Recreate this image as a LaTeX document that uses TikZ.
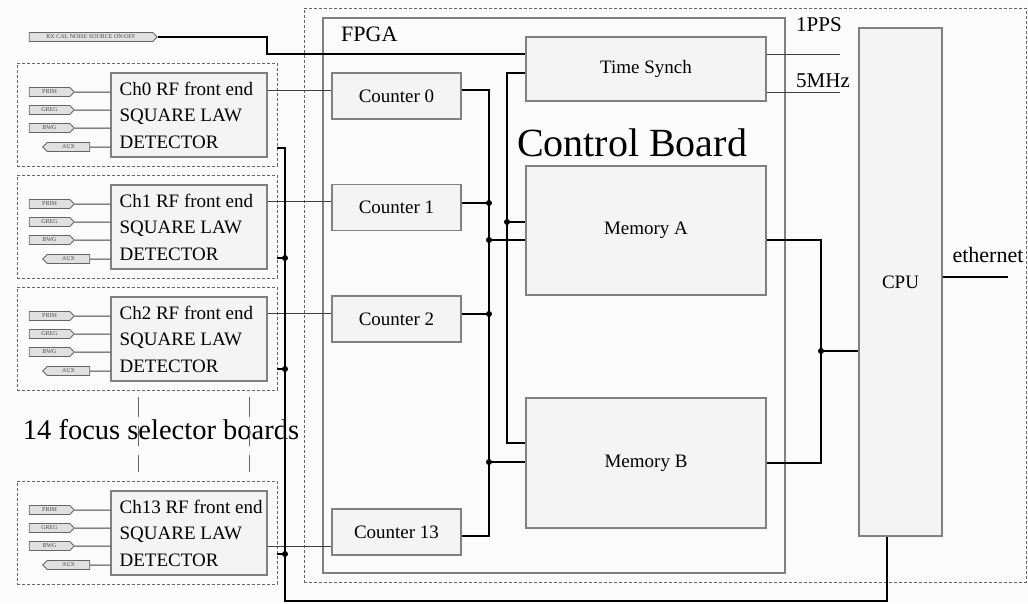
\documentclass[tikz,border=0pt]{standalone}
\usepackage{fontspec}
\setmainfont{Liberation Serif}
\usetikzlibrary{shapes.symbols}
\definecolor{boxfill}{gray}{0.955}
\definecolor{boxline}{gray}{0.5}
\definecolor{paper}{gray}{0.985}

\begin{document}
\begin{tikzpicture}[x=1pt,y=-1pt]
    \tikzstyle{box}=[draw=boxline,fill=boxfill,line width=1.1pt,inner sep=0pt]
    \tikzstyle{counter}=[box,minimum width=129,minimum height=46,font=\fontsize{19}{22}\selectfont]
    \tikzstyle{front end}=[box,minimum width=156,minimum height=84]
    \tikzstyle{frame}=[draw=black!60,dash pattern=on 3pt off 2pt,line width=0.8pt,inner sep=0pt]
    \tikzstyle{board}=[frame,minimum width=260,minimum height=103]
    \tikzstyle{tag}=[signal,draw=black!60,fill=black!12,line width=0.8pt,minimum height=9,inner sep=0.5pt,text=black!70,font=\fontsize{6}{6}\selectfont]
    \tikzstyle{tag out}=[tag,signal to=east,minimum width=45]
    \tikzstyle{tag in}=[tag,signal to=west,minimum width=47]
    \tikzstyle{link}=[draw=black!75,line width=1pt]
    \tikzstyle{bus}=[draw=black,line width=2.5pt]
    \tikzstyle{dot}=[circle,fill=black,inner sep=0pt,minimum size=6pt]
    \tikzstyle{annot}=[inner sep=0pt]

    \fill[paper] (0,0) rectangle (1028,603);
    \useasboundingbox (0,0) rectangle (1028,603);

    % Draw the control board and its blocks
    \node[frame,minimum width=722,minimum height=574] (Ctl) at (665,295) {};
    \node[draw=boxline,line width=1.1pt,minimum width=462,minimum height=555] (Fpga) at (554,295.5) {};
    \node[annot,anchor=west,font=\fontsize{22}{24}\selectfont] (FpgaT) at (341,34) {FPGA};
    \node[annot,font=\fontsize{40}{44}\selectfont] (CtlT) at (632,143) {Control Board};
    \node[box,minimum width=240,minimum height=64,font=\fontsize{19}{22}\selectfont] (Ts) at (646,69) {Time Synch};
    \node[box,minimum width=240,minimum height=129,font=\fontsize{19}{22}\selectfont] (MemA) at (646,230.5) {Memory A};
    \node[box,minimum width=240,minimum height=130,font=\fontsize{19}{22}\selectfont] (MemB) at (646,463) {Memory B};
    \node[box,minimum width=83,minimum height=508,font=\fontsize{19}{22}\selectfont] (Cpu) at (900.5,282) {CPU};

    % Draw the selector boards and their counters
    \foreach \n/\ty/\cy/\ly/\oy/\by in {0/63/96/90/90/148, 1/175/207.5/201/203/258, 2/287/319/313/314/369, 13/481/532/546/536/554}
    {
        \node[board] (Brd-\n) at (147,\ty+51.5) {};
        \node[front end] (Ch-\n) at (189,\ty+52) {};
        \node[annot,anchor=west,align=left,font=\fontsize{19}{26.5}\selectfont] (Txt-\n) at ([xshift=9pt]Ch-\n.west) {Ch\n\ RF front end\\SQUARE LAW\\DETECTOR};
        \node[tag out] (Prim-\n) at (49.5,\ty+29) {PRIM};
        \node[tag out] (Greg-\n) at (49.5,\ty+47) {GREG};
        \node[tag out] (Bwg-\n) at (49.5,\ty+65) {BWG};
        \node[tag in] (Aux-\n) at (68.5,\ty+84) {AUX};
        \foreach \p in {Prim,Greg,Bwg,Aux}
            \draw[link] (\p-\n) -- (\p-\n -| Ch-\n.west);
        \node[counter] (Cnt-\n) at (396.5,\cy) {Counter \n};
        \coordinate (L-\n) at (0,\ly);
        \coordinate (O-\n) at (0,\oy);
        \coordinate (S-\n) at (285,\by);
        \draw[link] (Ch-\n.east |- L-\n) -- (Cnt-\n.west |- L-\n);
        \draw[bus] (Brd-\n.east |- S-\n) -- (S-\n);
    }
    \node[annot,font=\fontsize{28.5}{30}\selectfont] (Many) at (161,430) {14 focus selector boards};
    \draw[draw=black!60,dash pattern=on 20pt off 9pt,line width=0.8pt] (138,397) -- (138,472);
    \draw[draw=black!60,dash pattern=on 20pt off 9pt,line width=0.8pt] (249,397) -- (249,472);

    % Noise source switch into the time synch
    \node[tag out,minimum width=128] (Rx) at (91,37) {RX CAL NOISE SOURCE ON/OFF};
    \coordinate (Rk) at (267,0);
    \coordinate (Tin) at ([yshift=15pt]Ts.west);
    \draw[bus] (Rx) -| (Rk |- Tin) -- (Tin);

    % Counters onto the memories
    \coordinate (Cb) at (489,0);
    \draw[bus] (Cnt-0.east |- O-0) -| (Cb |- O-13) -- (Cnt-13.east |- O-13);
    \foreach \n in {1,2}
        \draw[bus] (Cnt-\n.east |- O-\n) -- (Cb |- O-\n) node[dot] (Dc-\n) {};
    \coordinate (Ma1) at ([yshift=8.5pt]MemA.west);
    \coordinate (Ma2) at ([yshift=-9.5pt]MemA.west);
    \coordinate (Mb1) at ([yshift=20pt]MemB.west);
    \coordinate (Mb2) at ([yshift=1pt]MemB.west);
    \draw[bus] (Cb |- Ma2) node[dot] (Da-2) {} -- (Ma2);
    \draw[bus] (Cb |- Mb2) node[dot] (Db-2) {} -- (Mb2);

    % Time synch onto the memories
    \coordinate (Tb) at (507,0);
    \draw[bus] ([yshift=-4pt]Ts.west) -| (Tb |- Mb1) -- (Mb1);
    \draw[bus] (Tb |- Ma1) node[dot] (Da-1) {} -- (Ma1);

    % Memories onto the CPU
    \coordinate (Mc) at (821,351);
    \draw[bus] ([yshift=-9.5pt]MemA.east) -| (Mc |- MemB.east) -- (MemB.east);
    \draw[bus] (Mc) node[dot] (Dm) {} -- (Mc -| Cpu.west);

    % Detector outputs back to the CPU
    \coordinate (Lb) at (285,601);
    \draw[bus] (Brd-0.east |- S-0) -| (Lb) -| ([xshift=-13.5pt]Cpu.south);
    \foreach \n in {1,2,13}
        \node[dot] (Ds-\n) at (S-\n) {};

    % Outside signals
    \coordinate (Pps) at (840,54);
    \coordinate (Mhz) at (840,92);
    \coordinate (Eth) at (1008,277);
    \draw[link] (Ts.east |- Pps) -- (Pps);
    \draw[link] (Ts.east |- Mhz) -- (Mhz);
    \draw[bus] (Cpu.east |- Eth) -- (Eth);
    \node[annot,font=\fontsize{21}{23}\selectfont] (PpsT) at (819,25) {1PPS};
    \node[annot,font=\fontsize{21}{23}\selectfont] (MhzT) at (823,80.5) {5MHz};
    \node[annot,font=\fontsize{22}{24}\selectfont] (EthT) at (988,255) {ethernet};
\end{tikzpicture}
\end{document}
